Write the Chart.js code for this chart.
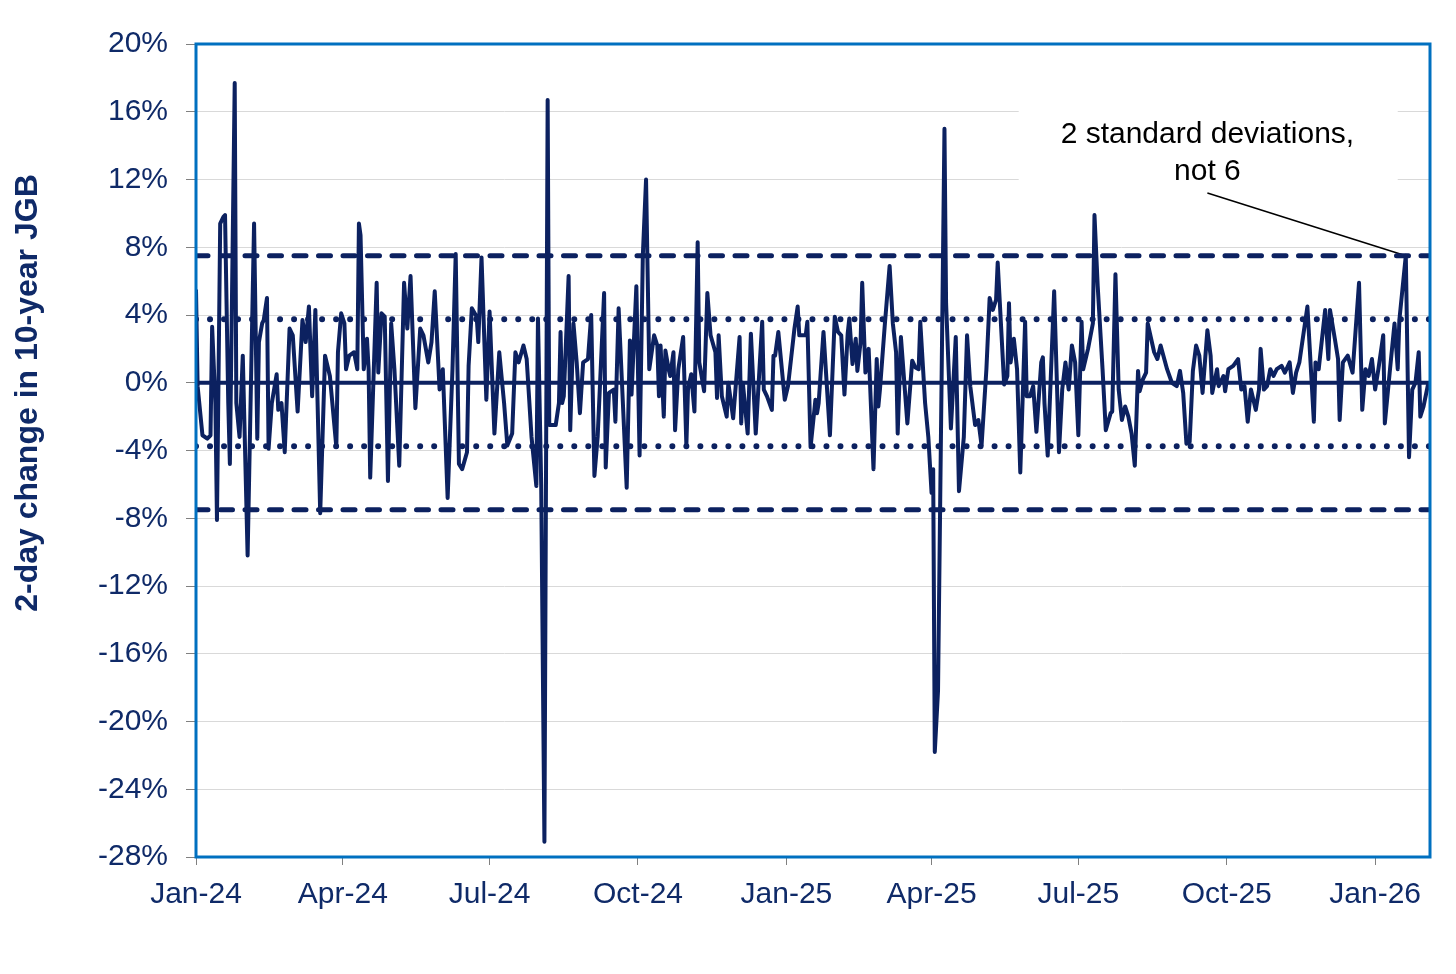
<!DOCTYPE html>
<html>
<head>
<meta charset="utf-8">
<script src="https://cdn.jsdelivr.net/npm/chart.js@4.4.1/dist/chart.umd.min.js"></script>
<style>
  html, body { margin: 0; padding: 0; background: #fff; }
</style>
</head>
<body>
<canvas id="jgbChart" width="1456" height="974"></canvas>
<script>
// days since 1 Jan 2024
const days = [
  0,1,4,7,9,10,12,13,15,17,18,20,21,24,25,27,29,32,36,38,39,41,42,44,45,47,50,51,53,55,58,60,63,66,68,70,72,74,77,80,83,87,88,90,92,93,
  95,98,100,101,102,104,106,107,108,112,113,115,117,119,121,123,126,129,131,133,136,139,141,144,146,148,151,153,156,159,161,163,165,168,169,171,174,175,177,180,182,185,188,191,
  193,196,198,200,203,205,208,211,212,214,216,218,219,223,225,226,227,228,231,232,234,236,238,240,243,245,247,249,253,254,256,259,260,262,267,269,270,273,275,277,279,281,284,
  286,287,288,290,291,293,294,296,297,299,302,304,305,307,309,311,312,315,317,319,322,323,324,326,329,330,333,337,338,339,342,344,347,351,352,354,357,358,359,361,365,367,371,373,374,378,379,381,
  384,385,386,389,393,396,398,400,402,404,405,407,409,410,412,413,415,417,420,422,423,424,427,430,432,434,435,437,441,444,446,448,449,452,454,456,457,458,460,464,465,468,471,473,476,478,
  480,483,485,487,490,492,494,496,497,501,503,504,505,507,509,511,514,515,517,519,521,524,525,526,528,532,535,537,539,541,543,545,547,549,550,553,556,557,559,562,564,567,568,570,572,574,576,
  578,580,582,584,585,587,589,590,594,596,598,602,605,608,610,612,614,616,618,620,622,624,627,629,630,633,634,637,638,640,643,646,648,650,652,654,657,659,660,662,664,666,668,670,
  673,675,678,680,682,684,689,693,694,696,700,702,703,706,708,709,711,714,717,721,723,725,727,729,731,733,736,737,740,743,745,746,750,752,754,756,758,759,761,764
];

// 2-day change in 10-year JGB yield, %
const change = [
  5.5,-0.2,-3.1,-3.3,-3.1,3.3,-1.2,-8.1,9.4,9.8,9.9,-1.2,-4.8,17.7,-1.2,-3.2,1.6,-10.2,9.4,-3.3,2.4,3.5,3.7,5.0,-3.9,-1.2,0.5,-1.6,-1.2,-4.1,3.2,2.8,-1.7,3.7,2.4,4.5,-0.8,4.3,-7.7,1.6,0.4,-3.8,1.8,4.1,3.5,0.8,
  1.6,1.8,0.8,9.4,8.7,0.8,2.6,0.8,-5.6,5.9,0.6,4.1,3.9,-5.8,3.5,0.8,-4.9,5.9,3.2,6.3,-1.5,3.2,2.8,1.2,2.4,5.4,-0.4,0.8,-6.8,0.8,7.6,-4.8,-5.1,-4.1,1.0,4.4,3.9,2.4,7.4,-1.0,4.2,-3.0,1.8,-1.2,
  -3.7,-3.0,1.8,1.2,2.2,1.4,-3.2,-6.1,3.8,-6.0,-27.1,16.7,-2.5,-2.5,-1.2,3.0,-1.2,-0.8,6.3,-2.8,3.5,1.2,-1.8,1.2,1.4,4.0,-5.5,-3.2,5.3,-5.0,-0.6,-0.4,-2.3,4.4,-6.2,2.5,-0.7,5.7,-4.3,7.5,12.0,0.8,2.8,
  2.2,-0.8,2.2,-2.0,1.9,0.8,0.4,1.8,-2.8,0.8,2.7,-3.7,-0.4,0.5,-1.7,8.3,1.2,-0.5,5.3,2.8,1.8,-0.9,2.8,-0.8,-2.0,0.0,-2.1,2.7,-2.4,0.0,-3.0,2.9,-3.0,3.6,-0.4,-0.8,-1.6,1.6,1.6,3.0,-1.0,-0.2,3.2,4.5,2.8,2.8,3.6,-3.8,
  -1.0,-1.8,-1.2,3.0,-3.1,3.9,3.0,2.8,-0.7,2.9,3.8,1.1,2.6,0.7,2.4,5.9,0.6,2.0,-5.1,1.4,-1.4,-0.4,3.4,6.9,3.5,1.8,-3.0,2.7,-2.4,1.3,0.9,0.8,3.6,-1.2,-3.2,-6.5,-5.1,-21.8,-18.2,15.0,4.7,-2.7,2.7,-6.4,-3.2,2.8,
  -0.2,-2.5,-2.2,-3.7,0.8,5.0,4.3,4.9,7.1,-0.1,0.4,4.7,1.2,2.6,0.8,-5.3,3.6,-0.8,-0.8,-0.2,-2.9,1.2,1.5,-1.2,-4.3,5.4,-4.1,-0.4,1.2,-0.4,2.2,1.2,-3.1,3.6,0.8,2.0,3.5,9.9,5.7,0.8,-2.8,-1.8,-1.7,6.4,-0.4,-2.2,-1.4,
  -2.0,-3.0,-4.9,0.7,-0.5,0.2,0.6,3.5,1.8,1.4,2.2,0.8,0.0,-0.2,0.7,-0.6,-3.6,-3.5,0.7,2.2,1.6,-0.6,3.1,1.6,-0.6,0.8,-0.2,0.4,-0.5,0.8,1.0,1.4,-0.4,-0.2,-2.3,-0.4,-1.6,-0.4,2.0,-0.4,-0.2,0.8,0.4,0.8,
  1.0,0.6,1.2,-0.6,0.6,1.2,4.5,-2.3,1.2,0.8,4.3,1.4,4.3,2.6,1.4,-2.2,1.2,1.6,0.6,5.9,-1.6,0.8,0.4,1.4,-0.4,0.8,2.8,-2.4,0.6,3.5,0.8,3.7,7.5,-4.4,-0.4,0.0,1.8,-2.0,-1.4,0.0
];

const tickDays = [0, 91, 182, 274, 366, 456, 547, 639, 731];
const tickLabels = ['Jan-24', 'Apr-24', 'Jul-24', 'Oct-24', 'Jan-25', 'Apr-25', 'Jul-25', 'Oct-25', 'Jan-26'];
const lastDay = 765;

const oneSd = 3.75;
const twoSd = 7.5;
const calloutDay = 750;

const navy = '#0c2160';
const textNavy = '#0f2a68';
const font = '"Liberation Sans", Arial, sans-serif';

function flat(v) {
  return [{ x: 0, y: v }, { x: lastDay, y: v }];
}

const boxPlugin = {
  id: 'boxAndNotes',
  beforeDatasetsDraw(chart) {
    const { ctx, scales: { x, y } } = chart;
    ctx.save();
    // white patch behind the note
    const l = x.getPixelForValue(510), r = x.getPixelForValue(745);
    const t = y.getPixelForValue(16.4), b = y.getPixelForValue(11.3);
    ctx.fillStyle = '#fff';
    ctx.fillRect(l, t, r - l, b - t);
    ctx.fillStyle = '#000';
    ctx.font = '30px ' + font;
    ctx.textAlign = 'center';
    ctx.textBaseline = 'alphabetic';
    const cx = x.getPixelForValue(627);
    ctx.fillText('2 standard deviations,', cx, y.getPixelForValue(14.15));
    ctx.fillText('not 6', cx, y.getPixelForValue(11.95));
    // pointer
    const i = days.indexOf(calloutDay);
    ctx.strokeStyle = '#000';
    ctx.lineWidth = 1.5;
    ctx.beginPath();
    ctx.moveTo(x.getPixelForValue(627), y.getPixelForValue(11.2));
    ctx.lineTo(x.getPixelForValue(days[i]), y.getPixelForValue(change[i]));
    ctx.stroke();
    ctx.restore();
  },
  afterDraw(chart) {
    const { ctx, chartArea: a } = chart;
    ctx.save();
    ctx.strokeStyle = '#0070c0';
    ctx.lineWidth = 3;
    ctx.strokeRect(a.left, a.top, a.right - a.left, a.bottom - a.top);
    // axis title
    ctx.translate(28, 393);
    ctx.rotate(-Math.PI / 2);
    ctx.fillStyle = textNavy;
    ctx.font = 'bold 32px ' + font;
    ctx.textAlign = 'center';
    ctx.textBaseline = 'middle';
    ctx.fillText('2-day change in 10-year JGB', 0, 0);
    ctx.restore();
  }
};

const ctx = document.getElementById('jgbChart').getContext('2d');
const jgbChart = new Chart(ctx, {
  type: 'line',
  data: {
    datasets: [{
      label: '2-day change',
      data: days.map((d, i) => ({ x: d, y: change[i] })),
      borderColor: navy,
      borderWidth: 4,
      borderJoinStyle: 'round',
      pointRadius: 0,
      tension: 0
    }, {
      data: flat(0),
      borderColor: navy,
      borderWidth: 4,
      pointRadius: 0
    }, {
      data: flat(twoSd),
      borderColor: navy,
      borderWidth: 5,
      borderDash: [12, 12.5],
      borderCapStyle: 'round',
      pointRadius: 0
    }, {
      data: flat(-twoSd),
      borderColor: navy,
      borderWidth: 5,
      borderDash: [12, 12.5],
      borderCapStyle: 'round',
      pointRadius: 0
    }, {
      data: flat(oneSd),
      borderColor: navy,
      borderWidth: 6,
      borderDash: [0.01, 14],
      borderCapStyle: 'round',
      pointRadius: 0
    }, {
      data: flat(-oneSd),
      borderColor: navy,
      borderWidth: 6,
      borderDash: [0.01, 14],
      borderCapStyle: 'round',
      pointRadius: 0
    }]
  },
  options: {
    responsive: false,
    animation: false,
    layout: { padding: { left: 0, top: 44, right: 26, bottom: 0 } },
    plugins: { legend: { display: false }, tooltip: { enabled: false } },
    scales: {
      x: {
        type: 'linear',
        min: 0,
        max: lastDay,
        afterBuildTicks: s => { s.ticks = tickDays.map(v => ({ value: v })); },
        afterFit: s => { s.height = 117; },
        grid: { drawOnChartArea: false, tickLength: 8, color: '#808080' },
        border: { display: false },
        ticks: {
          autoSkip: false,
          maxRotation: 0,
          padding: 12,
          color: textNavy,
          font: { family: font, size: 30 },
          callback: v => tickLabels[tickDays.indexOf(v)] || ''
        }
      },
      y: {
        min: -28,
        max: 20,
        afterFit: s => { s.width = 196; },
        grid: { color: '#d9d9d9', tickColor: '#808080', tickLength: 10 },
        border: { display: false },
        ticks: {
          stepSize: 4,
          padding: 18,
          color: textNavy,
          font: { family: font, size: 30 },
          callback: v => v + '%'
        }
      }
    }
  },
  plugins: [boxPlugin]
});
</script>
</body>
</html>
